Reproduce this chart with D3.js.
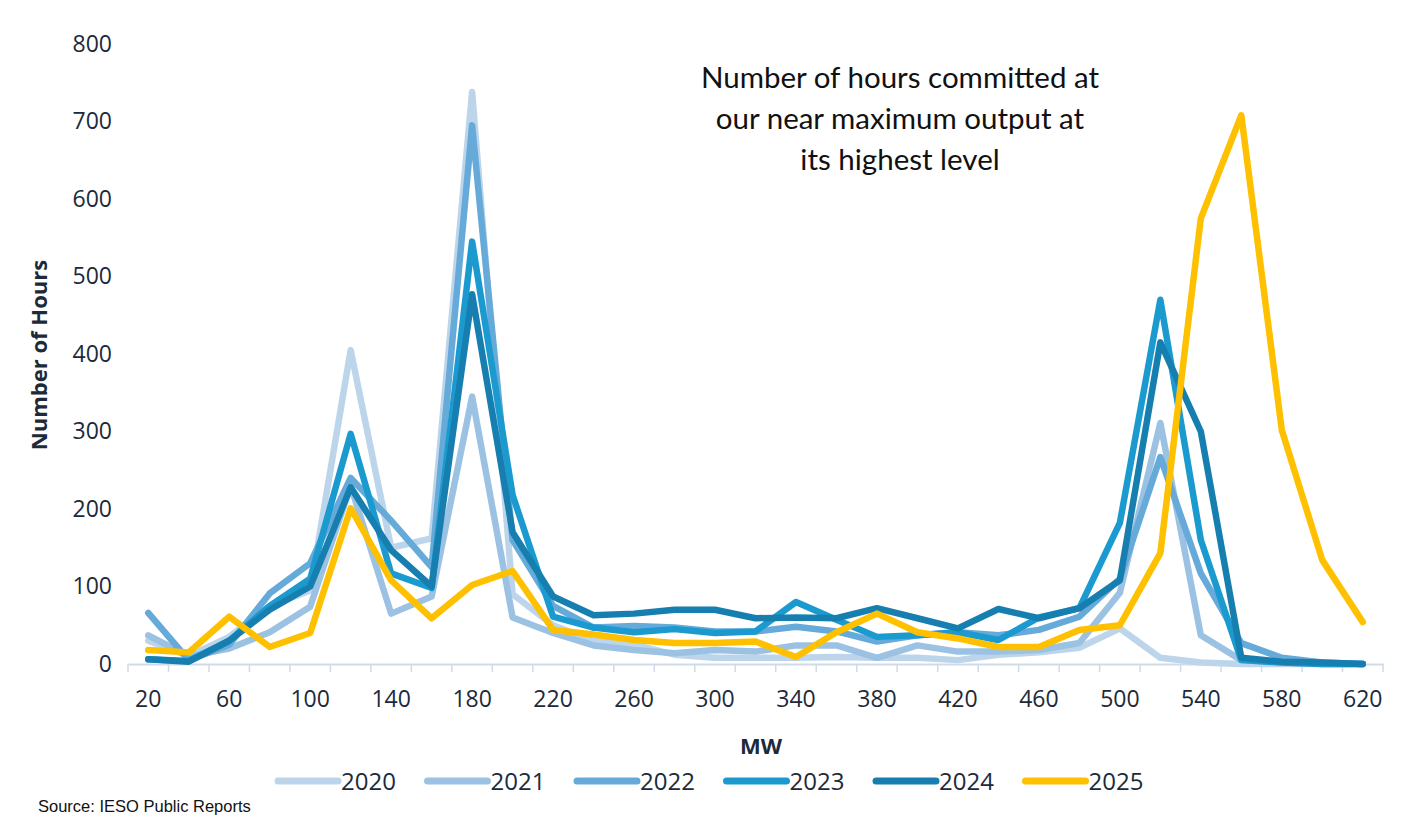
<!DOCTYPE html>
<html>
<head>
<meta charset="utf-8">
<script src="https://cdn.jsdelivr.net/npm/d3@7"></script>
<style>
  body { margin: 0; background: #fff; }
  svg { display: block; }
</style>
</head>
<body>
<svg width="1413" height="826"></svg>
<script>
// MW bins along the x axis
const mwBins = [20, 40, 60, 80, 100, 120, 140, 160, 180, 200, 220, 240, 260, 280, 300, 320,
                340, 360, 380, 400, 420, 440, 460, 480, 500, 520, 540, 560, 580, 600, 620];

const years = ['2020', '2021', '2022', '2023', '2024', '2025'];
const yearColors = ['#bdd5ea', '#9cc2e3', '#66aad9', '#1b9ad0', '#167fb0', '#ffc000'];

const hours2020 = [30, 10, 35, 75, 95, 405, 150, 162, 738, 90, 50, 30, 25, 12, 8, 8,
                   8, 9, 8, 8, 5, 12, 15, 21, 46, 8, 2, 0, 0, 0, 0];
const hours2021 = [37, 10, 20, 41, 74, 230, 65, 87, 345, 60, 40, 24, 18, 14, 18, 16,
                   24, 24, 8, 24, 16, 16, 18, 27, 92, 311, 37, 5, 2, 0, 0];
const hours2022 = [66, 5, 25, 91, 130, 240, 185, 125, 695, 160, 75, 47, 49, 47, 42, 42,
                   48, 42, 29, 37, 41, 37, 44, 61, 110, 267, 117, 27, 8, 2, 0];
const hours2023 = [6, 4, 30, 75, 110, 297, 117, 98, 545, 218, 61, 47, 41, 45, 40, 42,
                   80, 57, 35, 37, 41, 31, 60, 72, 182, 470, 160, 5, 2, 0, 0];
const hours2024 = [6, 3, 30, 70, 100, 228, 147, 100, 477, 170, 87, 63, 65, 70, 70, 59,
                   60, 59, 72, 59, 46, 71, 59, 72, 108, 415, 300, 8, 3, 2, 0];
const hours2025 = [18, 15, 61, 22, 40, 201, 108, 59, 102, 120, 44, 38, 31, 27, 27, 29,
                   9, 41, 65, 41, 33, 22, 22, 44, 50, 143, 575, 708, 302, 134, 54];

const seriesHours = [hours2020, hours2021, hours2022, hours2023, hours2024, hours2025];

const yTicks = [0, 100, 200, 300, 400, 500, 600, 700, 800];
const xTickLabels = mwBins.filter((d, i) => i % 2 === 0);

const titleLines = ['Number of hours committed at', 'our near maximum output at', 'its highest level'];

const textColor = '#1c2a3a';
const svg = d3.select('svg');

const plotLeft = 128, plotRight = 1383, plotTop = 44, plotBottom = 664;

const x = d3.scaleBand()
  .domain(mwBins)
  .range([plotLeft, plotRight]);

const y = d3.scaleLinear()
  .domain([0, 800])
  .range([plotBottom, plotTop]);

// y axis: labels only
const yAxis = svg.append('g')
  .attr('transform', 'translate(' + (plotLeft - 16) + ',0)')
  .call(d3.axisLeft(y).tickValues(yTicks).tickSize(0).tickPadding(0));
yAxis.select('.domain').remove();
yAxis.selectAll('text')
  .attr('fill', textColor)
  .style('font-family', '"Open Sans", sans-serif')
  .style('font-size', '23px');

// x axis: light baseline, ticks between bins
const xAxis = svg.append('g')
  .attr('transform', 'translate(0,' + plotBottom + ')')
  .call(d3.axisBottom(x).tickValues(xTickLabels).tickSize(0).tickPadding(27));
xAxis.select('.domain').attr('stroke', '#cfdbe8').attr('stroke-width', 2);
xAxis.selectAll('text')
  .attr('fill', textColor)
  .style('font-family', '"Open Sans", sans-serif')
  .style('font-size', '23px');

svg.append('g')
  .selectAll('line')
  .data(d3.range(mwBins.length + 1))
  .join('line')
  .attr('x1', i => plotLeft + i * x.step())
  .attr('x2', i => plotLeft + i * x.step())
  .attr('y1', plotBottom)
  .attr('y2', plotBottom + 8)
  .attr('stroke', '#cfdbe8')
  .attr('stroke-width', 1.5);

// series lines
const line = d3.line()
  .x((d, i) => x(mwBins[i]) + x.bandwidth() / 2)
  .y(d => y(d));

svg.append('g')
  .selectAll('path')
  .data(seriesHours)
  .join('path')
  .attr('d', line)
  .attr('fill', 'none')
  .attr('stroke', (d, i) => yearColors[i])
  .attr('stroke-width', 6.5)
  .attr('stroke-linejoin', 'round')
  .attr('stroke-linecap', 'round');

// axis titles
svg.append('text')
  .attr('transform', 'translate(47,355) rotate(-90)')
  .attr('text-anchor', 'middle')
  .attr('fill', textColor)
  .style('font-family', '"Open Sans", sans-serif')
  .style('font-weight', 'bold')
  .style('font-size', '22px')
  .text('Number of Hours');

svg.append('text')
  .attr('x', 761)
  .attr('y', 754)
  .attr('text-anchor', 'middle')
  .attr('fill', textColor)
  .style('font-family', '"Open Sans", sans-serif')
  .style('font-weight', 'bold')
  .style('font-size', '22px')
  .text('MW');

// annotation
svg.append('text')
  .attr('text-anchor', 'middle')
  .attr('fill', '#111')
  .style('font-family', 'Lato, sans-serif')
  .style('font-size', '29.5px')
  .selectAll('tspan')
  .data(titleLines)
  .join('tspan')
  .attr('x', 900)
  .attr('y', (d, i) => 88 + i * 41)
  .text(d => d);

// legend
const legend = svg.append('g')
  .selectAll('g')
  .data(years)
  .join('g')
  .attr('transform', (d, i) => 'translate(' + (278 + i * 149.5) + ',781)');

legend.append('line')
  .attr('x1', 0)
  .attr('x2', 60)
  .attr('stroke', (d, i) => yearColors[i])
  .attr('stroke-width', 7)
  .attr('stroke-linecap', 'round');

legend.append('text')
  .attr('x', 63)
  .attr('y', 9)
  .attr('fill', textColor)
  .style('font-family', '"Open Sans", sans-serif')
  .style('font-size', '24px')
  .text(d => d);

svg.append('text')
  .attr('x', 38)
  .attr('y', 812)
  .attr('fill', '#111')
  .style('font-family', '"Liberation Sans", Arial, sans-serif')
  .style('font-size', '16.5px')
  .text('Source: IESO Public Reports');
</script>
</body>
</html>
